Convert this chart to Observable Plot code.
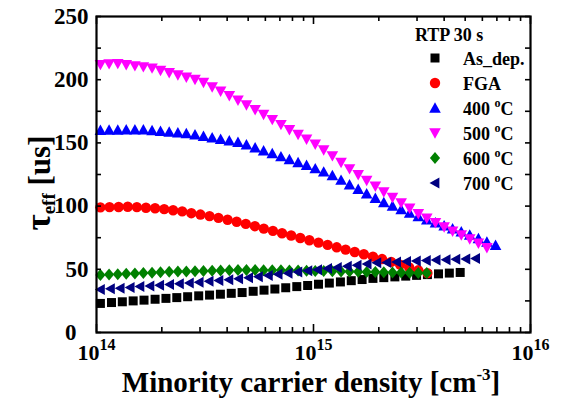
<!DOCTYPE html>
<html>
<head>
<meta charset="utf-8">
<script src="https://cdn.jsdelivr.net/npm/d3@7"></script>
<script src="https://cdn.jsdelivr.net/npm/@observablehq/plot@0.6"></script>
<style>
  body { margin: 0; background: #fff; }
  #chart { width: 561px; height: 400px; }
</style>
</head>
<body>
<div id="chart"></div>
<script>
// Effective lifetime vs. minority carrier density (log10 of density in cm^-3)
const asDepLogN = [14.018, 14.069, 14.119, 14.169, 14.219, 14.270, 14.320, 14.370, 14.420, 14.471, 14.521, 14.571, 14.621, 14.671, 14.722, 14.772, 14.822, 14.872, 14.923, 14.973, 15.023, 15.073, 15.124, 15.174, 15.224, 15.274, 15.324, 15.375, 15.425, 15.475, 15.525, 15.576, 15.626, 15.676];
const asDepTau = [23.0, 23.7, 24.3, 25.0, 25.6, 26.3, 27.0, 27.6, 28.3, 29.0, 29.6, 30.3, 31.0, 31.6, 32.6, 33.5, 34.4, 35.4, 36.3, 37.2, 38.2, 39.1, 40.0, 41.0, 41.9, 42.8, 43.4, 44.0, 44.6, 45.2, 45.8, 46.4, 47.0, 47.5];

const fgaLogN = [14.018, 14.060, 14.102, 14.144, 14.186, 14.228, 14.270, 14.312, 14.353, 14.395, 14.437, 14.479, 14.521, 14.562, 14.604, 14.646, 14.688, 14.730, 14.771, 14.813, 14.855, 14.897, 14.939, 14.981, 15.023, 15.065, 15.107, 15.148, 15.190, 15.232, 15.274, 15.316, 15.358, 15.399, 15.441, 15.483, 15.525];
const fgaTau = [99.0, 99.2, 99.3, 99.5, 99.2, 98.7, 98.3, 97.6, 96.7, 95.8, 94.4, 93.3, 92.1, 90.7, 89.2, 87.6, 85.9, 84.1, 82.2, 80.4, 78.5, 76.7, 74.8, 73.0, 71.1, 69.3, 67.4, 65.6, 63.7, 61.9, 60.0, 58.1, 55.9, 53.7, 51.5, 49.2, 47.0];

const t400LogN = [14.018, 14.058, 14.098, 14.137, 14.177, 14.216, 14.256, 14.295, 14.335, 14.375, 14.414, 14.454, 14.493, 14.533, 14.572, 14.612, 14.652, 14.691, 14.731, 14.770, 14.810, 14.850, 14.889, 14.929, 14.968, 15.008, 15.047, 15.087, 15.127, 15.166, 15.206, 15.245, 15.285, 15.324, 15.364, 15.404, 15.443, 15.483, 15.522, 15.562, 15.602, 15.641, 15.681, 15.720, 15.760, 15.799, 15.839];
const t400Tau = [160.0, 160.1, 160.2, 160.3, 160.4, 160.3, 159.7, 159.1, 158.5, 157.9, 157.3, 156.4, 155.2, 154.0, 152.8, 151.6, 150.4, 148.4, 146.1, 143.8, 141.5, 139.1, 136.8, 134.5, 132.2, 129.6, 127.0, 124.2, 120.5, 116.9, 113.3, 109.7, 106.1, 102.8, 100.0, 97.2, 94.4, 91.7, 89.2, 86.8, 84.4, 82.0, 79.6, 77.0, 74.3, 71.6, 68.9];

const t500LogN = [14.018, 14.058, 14.098, 14.137, 14.177, 14.216, 14.256, 14.295, 14.335, 14.375, 14.414, 14.454, 14.493, 14.533, 14.572, 14.612, 14.652, 14.691, 14.731, 14.770, 14.810, 14.850, 14.889, 14.929, 14.968, 15.008, 15.047, 15.087, 15.127, 15.166, 15.206, 15.245, 15.285, 15.324, 15.364, 15.404, 15.443, 15.483, 15.522, 15.562, 15.602, 15.641, 15.681, 15.720, 15.760, 15.799];
const t500Tau = [212.0, 212.6, 212.8, 211.9, 211.0, 210.2, 209.2, 207.4, 205.6, 203.8, 202.0, 200.2, 197.8, 194.3, 190.9, 187.4, 183.8, 180.1, 176.3, 172.5, 168.5, 164.5, 160.5, 156.7, 153.0, 149.0, 144.5, 139.8, 134.6, 129.5, 124.8, 120.3, 115.7, 111.2, 106.9, 102.6, 98.3, 94.0, 90.4, 86.9, 83.5, 80.2, 77.2, 74.1, 70.7, 67.1];

const t600LogN = [14.018, 14.058, 14.098, 14.137, 14.177, 14.216, 14.256, 14.295, 14.335, 14.375, 14.414, 14.454, 14.493, 14.533, 14.572, 14.612, 14.652, 14.691, 14.731, 14.770, 14.810, 14.850, 14.889, 14.929, 14.968, 15.008, 15.047, 15.087, 15.127, 15.166, 15.206, 15.245, 15.285, 15.324, 15.364, 15.404, 15.443, 15.483, 15.522];
const t600Tau = [45.5, 45.8, 46.1, 46.4, 46.7, 47.0, 47.3, 47.6, 48.0, 48.2, 48.3, 48.5, 48.7, 48.9, 49.1, 49.3, 49.5, 49.5, 49.4, 49.3, 49.2, 49.2, 49.1, 49.0, 48.9, 48.7, 48.6, 48.5, 48.3, 48.2, 48.0, 47.9, 47.8, 47.6, 47.5, 47.4, 47.3, 47.1, 47.0];

const t700LogN = [14.018, 14.064, 14.109, 14.155, 14.200, 14.246, 14.291, 14.337, 14.382, 14.428, 14.473, 14.519, 14.564, 14.610, 14.655, 14.701, 14.746, 14.792, 14.837, 14.883, 14.928, 14.974, 15.019, 15.065, 15.110, 15.156, 15.201, 15.247, 15.292, 15.338, 15.383, 15.429, 15.474, 15.520, 15.565, 15.611, 15.656, 15.702, 15.747];
const t700Tau = [34.0, 34.6, 35.1, 35.7, 36.3, 36.8, 37.4, 37.9, 38.6, 39.2, 39.8, 40.5, 41.2, 41.8, 42.5, 43.3, 44.2, 45.1, 46.0, 46.9, 47.8, 48.8, 49.7, 50.6, 51.5, 52.4, 53.3, 54.2, 55.1, 55.4, 55.8, 56.2, 56.6, 57.0, 57.3, 57.6, 57.9, 58.2, 58.5];

const seriesNames = ["As_dep.", "FGA", "400 °C", "500 °C", "600 °C", "700 °C"];
const seriesColors = ["#000000", "#ff0000", "#0000ff", "#ff00ff", "#008000", "#000080"];
const legendTitle = "RTP 30 s";

const yTickValues = [0, 50, 100, 150, 200, 250];
const yMinorValues = [0, 25, 50, 75, 100, 125, 150, 175, 200, 225, 250];
const xTickValues = [1e14, 1e15, 1e16];
const xMinorValues = [2e14, 3e14, 4e14, 5e14, 6e14, 7e14, 8e14, 9e14, 2e15, 3e15, 4e15, 5e15, 6e15, 7e15, 8e15, 9e15];

// Marker shapes; each is sized so that sqrt(size / PI) is its half-extent
const half = size => Math.sqrt(size / Math.PI);
const symSquare = { draw(c, s) { const r = half(s); c.rect(-r, -r, 2 * r, 2 * r); } };
const symCircle = { draw(c, s) { const r = half(s); c.moveTo(r, 0); c.arc(0, 0, r, 0, 2 * Math.PI); c.closePath(); } };
const symTriUp = { draw(c, s) { const r = half(s); c.moveTo(0, -r); c.lineTo(r, 0.8 * r); c.lineTo(-r, 0.8 * r); c.closePath(); } };
const symTriDown = { draw(c, s) { const r = half(s); c.moveTo(0, r); c.lineTo(r, -0.8 * r); c.lineTo(-r, -0.8 * r); c.closePath(); } };
const symDiamond = { draw(c, s) { const r = half(s); c.moveTo(0, -r); c.lineTo(0.85 * r, 0); c.lineTo(0, r); c.lineTo(-0.85 * r, 0); c.closePath(); } };
const symTriLeft = { draw(c, s) { const r = half(s); c.moveTo(-r, 0); c.lineTo(0.8 * r, -r); c.lineTo(0.8 * r, r); c.closePath(); } };

const seriesSymbols = [symSquare, symCircle, symTriUp, symTriDown, symDiamond, symTriLeft];
const seriesRadius = [4.5, 5.2, 5.8, 5.8, 6.0, 5.5];

const seriesLogN = [asDepLogN, fgaLogN, t400LogN, t500LogN, t600LogN, t700LogN];
const seriesTau = [asDepTau, fgaTau, t400Tau, t500Tau, t600Tau, t700Tau];

const series = seriesNames.map((name, k) => ({
  name,
  color: seriesColors[k],
  symbol: seriesSymbols[k],
  r: seriesRadius[k],
  rows: seriesLogN[k].map((e, i) => ({ n: Math.pow(10, e), tau: seriesTau[k][i] }))
}));

const W = 561, H = 400;
const mL = 96, mR = 31, mT = 16, mB = 68;
const frameW = W - mL - mR, frameH = H - mT - mB;
const serif = '"Liberation Serif", "Times New Roman", Times, serif';

const plot = Plot.plot({
  width: W,
  height: H,
  marginLeft: mL,
  marginRight: mR,
  marginTop: mT,
  marginBottom: mB,
  style: { fontFamily: serif, fontWeight: "bold", background: "#fff", color: "#000", overflow: "visible" },
  x: { type: "log", domain: [1e14, 1e16], axis: null },
  y: { domain: [0, 250], axis: null },
  marks: [
    ...series.map(s => Plot.dot(s.rows, {
      x: "n", y: "tau", symbol: () => s.symbol, r: s.r, fill: s.color, stroke: "none"
    })),
    // inward ticks on all four sides
    Plot.tickY(yMinorValues, { y: d => d, insetRight: frameW - 5, stroke: "#000", strokeWidth: 1.6 }),
    Plot.tickY(yMinorValues, { y: d => d, insetLeft: frameW - 5, stroke: "#000", strokeWidth: 1.6 }),
    Plot.tickX(xTickValues, { x: d => d, insetTop: frameH - 8, stroke: "#000", strokeWidth: 1.6 }),
    Plot.tickX(xMinorValues, { x: d => d, insetTop: frameH - 5, stroke: "#000", strokeWidth: 1.6 }),
    Plot.tickX(xTickValues, { x: d => d, insetBottom: frameH - 8, stroke: "#000", strokeWidth: 1.6 }),
    Plot.tickX(xMinorValues, { x: d => d, insetBottom: frameH - 5, stroke: "#000", strokeWidth: 1.6 }),
    Plot.axisY({ ticks: yTickValues, tickSize: 0, tickPadding: 8, fontSize: 23, fontWeight: "bold", label: null }),
    Plot.axisX({
      ticks: xTickValues, tickSize: 0, tickPadding: 12, fontSize: 22, fontWeight: "bold", label: null,
      tickFormat: d => "10^" + Math.round(Math.log10(d))
    }),
    Plot.frame({ stroke: "#000", strokeWidth: 2.2 })
  ]
});

document.getElementById("chart").appendChild(plot);

const svg = d3.select(plot);

// Superscript exponents on the x tick labels
svg.selectAll('g[aria-label="x-axis tick label"] text').each(function () {
  const t = d3.select(this);
  const [base, exp] = t.text().split("^");
  t.text(null);
  t.append("tspan").text(base);
  t.append("tspan").attr("font-size", 16).attr("dy", -10).text(exp);
});

// The zero label sits a little to the left, clear of the 10^14 label
svg.selectAll('g[aria-label="y-axis tick label"] text').each(function () {
  const t = d3.select(this);
  if (t.text() === "0") t.attr("transform", (t.attr("transform") || "") + " translate(-12,0)");
});

// Writes a label, rendering "°" as a raised small "o"
function writeDegree(textSel, label, supSize, supShift) {
  const parts = label.split("°");
  textSel.append("tspan").text(parts[0]);
  if (parts.length > 1) {
    textSel.append("tspan").attr("font-size", supSize).attr("dy", -supShift).text("o");
    textSel.append("tspan").attr("dy", supShift).text(parts[1]);
  }
}

// Axis titles
const xTitle = svg.append("text")
  .attr("x", 311).attr("y", 392)
  .attr("text-anchor", "middle")
  .attr("font-size", 29).attr("font-weight", "bold").attr("font-family", serif);
xTitle.append("tspan").text("Minority carrier density [cm");
xTitle.append("tspan").attr("font-size", 17).attr("dy", -12).text("-3");
xTitle.append("tspan").attr("dy", 12).text("]");

const yTitle = svg.append("text")
  .attr("transform", "translate(50,183) rotate(-90)")
  .attr("text-anchor", "middle")
  .attr("font-size", 31).attr("font-weight", "bold").attr("font-family", serif);
yTitle.append("tspan").attr("font-size", 35).text("τ");
yTitle.append("tspan").attr("font-size", 19).attr("dy", 5).text("eff");
yTitle.append("tspan").attr("dy", -5).text(" [us]");

// Legend
const legend = svg.append("g")
  .attr("font-family", serif).attr("font-weight", "bold").attr("font-size", 18)
  .attr("text-anchor", "start");
legend.append("text").attr("x", 415).attr("y", 41).text(legendTitle);
series.forEach((s, i) => {
  const cy = 58 + 25 * i;
  legend.append("path")
    .attr("transform", `translate(435,${cy})`)
    .attr("d", d3.symbol(s.symbol, Math.PI * s.r * s.r)())
    .attr("fill", s.color);
  const t = legend.append("text").attr("x", 463).attr("y", cy + 6.5);
  writeDegree(t, s.name, 12, 8);
});
</script>
</body>
</html>
